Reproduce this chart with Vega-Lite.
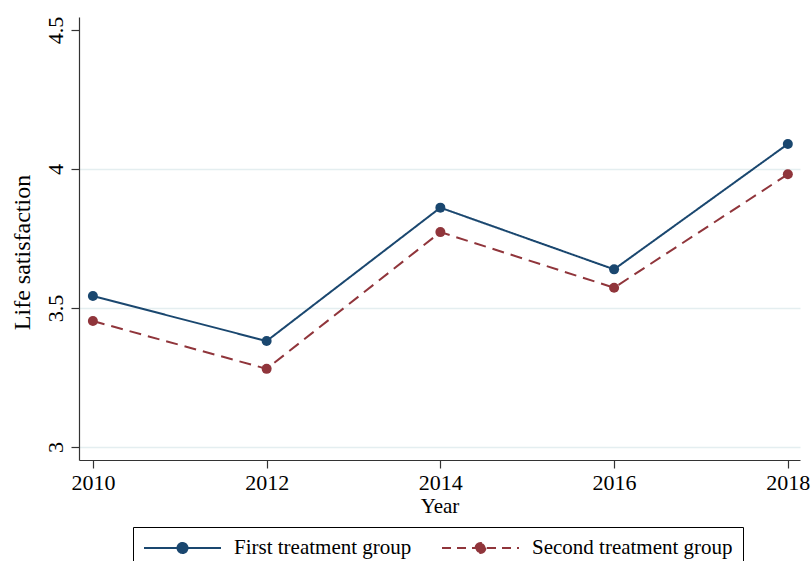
{
  "$schema": "https://vega.github.io/schema/vega-lite/v6.json",
  "width": 721,
  "height": 443,
  "autosize": {"type": "none"},
  "padding": {"left": 79, "top": 17, "right": 11, "bottom": 101},
  "background": "white",
  "config": {
    "view": {"stroke": null},
    "font": "Liberation Serif",
    "axis": {
      "labelFont": "Liberation Serif",
      "titleFont": "Liberation Serif",
      "labelColor": "black",
      "titleColor": "black",
      "labelFontSize": 22,
      "titleFontSize": 21,
      "titleFontWeight": "normal",
      "domainColor": "#333333",
      "tickColor": "#333333",
      "tickSize": 8,
      "domainWidth": 1.2,
      "tickWidth": 1.2
    },
    "legend": {
      "labelFont": "Liberation Serif",
      "labelFontSize": 21,
      "labelColor": "black",
      "labelLimit": 400
    }
  },
  "layer": [
    {
      "data": {"values": [{"year": 2014}]},
      "mark": {"type": "rule", "color": "#1a476f", "strokeWidth": 1, "strokeDash": [12, 6], "opacity": 0.85},
      "encoding": {"x": {"field": "year", "type": "quantitative"}}
    },
    {
      "data": {"values": [{"year": 2016}]},
      "mark": {"type": "rule", "color": "#90353b", "strokeWidth": 1, "strokeDash": [12, 6], "opacity": 0.85},
      "encoding": {"x": {"field": "year", "type": "quantitative"}}
    },
    {
      "data": {"name": "series", "values": [
        {"year": 2010, "group": "First treatment group", "ls": 3.543},
        {"year": 2012, "group": "First treatment group", "ls": 3.381},
        {"year": 2014, "group": "First treatment group", "ls": 3.861},
        {"year": 2016, "group": "First treatment group", "ls": 3.639},
        {"year": 2018, "group": "First treatment group", "ls": 4.090},
        {"year": 2010, "group": "Second treatment group", "ls": 3.453},
        {"year": 2012, "group": "Second treatment group", "ls": 3.281},
        {"year": 2014, "group": "Second treatment group", "ls": 3.773},
        {"year": 2016, "group": "Second treatment group", "ls": 3.573},
        {"year": 2018, "group": "Second treatment group", "ls": 3.981}
      ]},
      "layer": [
        {
          "mark": {"type": "line", "strokeWidth": 2},
          "encoding": {
            "x": {"field": "year", "type": "quantitative"},
            "y": {"field": "ls", "type": "quantitative"},
            "color": {"field": "group", "type": "nominal"},
            "strokeDash": {"field": "group", "type": "nominal", "scale": {"range": [[1, 0], [12, 7]]}, "legend": null}
          }
        },
        {
          "mark": {"type": "point", "filled": true, "size": 100, "opacity": 1},
          "encoding": {
            "x": {"field": "year", "type": "quantitative"},
            "y": {"field": "ls", "type": "quantitative"},
            "color": {"field": "group", "type": "nominal"}
          }
        }
      ]
    }
  ],
  "encoding": {
    "x": {
      "field": "year", "type": "quantitative",
      "scale": {"domain": [2009.84, 2018.14], "nice": false, "zero": false},
      "axis": {"values": [2010, 2012, 2014, 2016, 2018], "format": "d", "grid": false, "title": "Year",
        "labelFont": "Liberation Serif", "titleFont": "Liberation Serif",
        "labelPadding": 4, "titlePadding": 2}
    },
    "y": {
      "field": "ls", "type": "quantitative",
      "scale": {"domain": [2.953, 4.547], "nice": false, "zero": false},
      "axis": {
        "values": [3, 3.5, 4, 4.5], "format": ".1~f", "title": "Life satisfaction",
        "labelFont": "Liberation Serif", "titleFont": "Liberation Serif",
        "labelAngle": 270, "labelAlign": "center", "labelBaseline": "bottom", "labelPadding": 4,
        "titlePadding": 10, "titleFontSize": 24, "titleY": 235,
        "grid": true,
        "gridColor": {"condition": {"test": "datum.value >= 4.5", "value": "transparent"}, "value": "#e4eef0"},
        "gridWidth": 1.5
      }
    },
    "color": {
      "field": "group", "type": "nominal",
      "scale": {"domain": ["First treatment group", "Second treatment group"], "range": ["#1a476f", "#90353b"]},
      "legend": {
        "title": null, "orient": "none", "direction": "horizontal", "legendX": 54, "legendY": 510,
        "symbolType": "M-1,0H6.7M2.35,0A0.5,0.5 0 1,1 3.35,0A0.5,0.5 0 1,1 2.35,0Z",
        "symbolSize": 400, "symbolStrokeWidth": 2, "labelOffset": 69, "columnPadding": 26,
        "strokeColor": "black", "padding": 10,
        "encode": {"symbols": {"update": {
          "fill": {"scale": "color", "field": "value"},
          "opacity": {"value": 1},
          "strokeDash": {"signal": "datum.value === 'Second treatment group' ? [9, 6] : [1, 0]"}
        }}}
      }
    }
  }
}
